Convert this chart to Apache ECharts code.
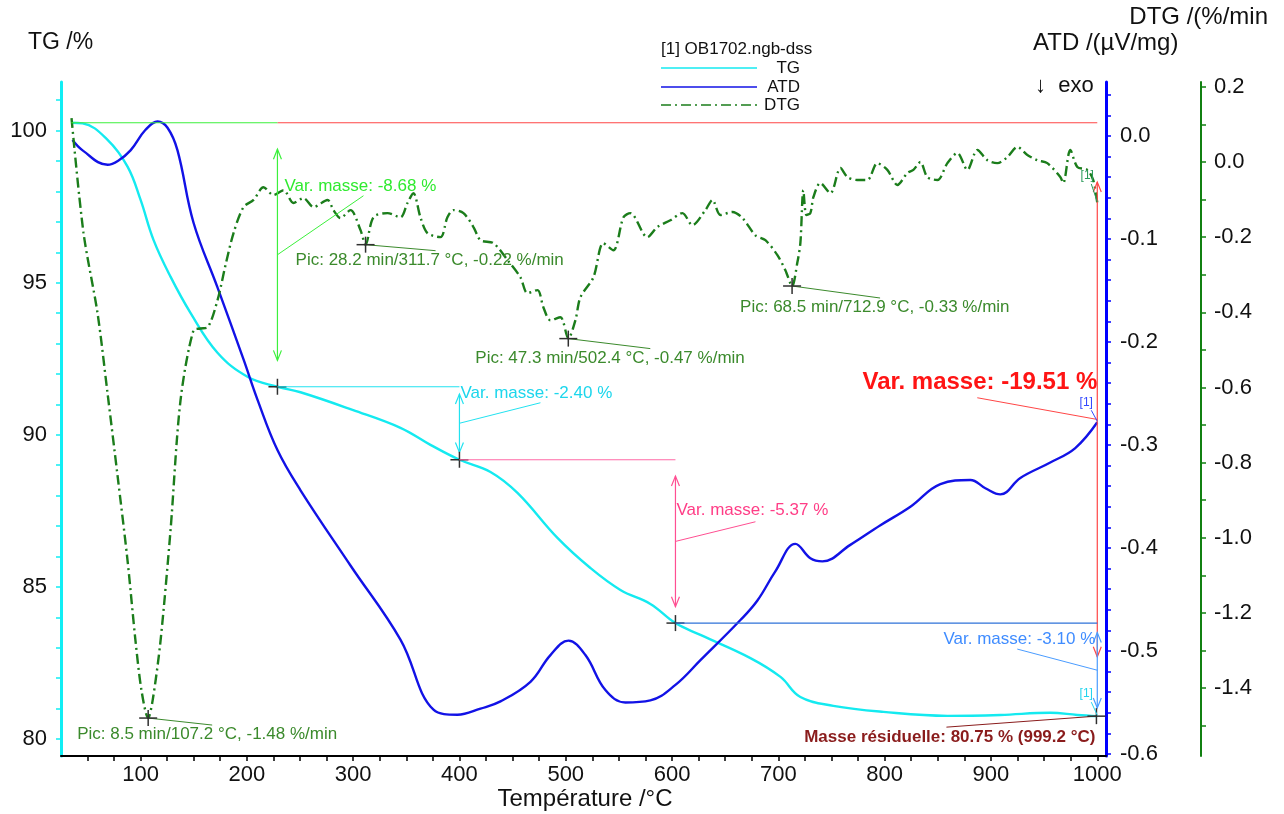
<!DOCTYPE html>
<html>
<head>
<meta charset="utf-8">
<title>OB1702 – TG / ATD / DTG</title>
<script src="https://cdn.jsdelivr.net/npm/echarts@6/dist/echarts.min.js"></script>
<style>
  html, body { margin: 0; padding: 0; background: #fff; }
  #chart { width: 1284px; height: 814px; }
</style>
</head>
<body>
<div id="chart"></div>
<script>
// ---- Measured curves: [temperature °C, value] ----
// TG, mass in %
const tgCurve = [
  [35, 100.26], [45.5, 100.24], [69, 99.70], [87.8, 98.82], [100, 97.73], [112.2, 96.41],
  [128.2, 95.20], [147, 94.01], [172.4, 92.70], [200.6, 91.91], [228.8, 91.58], [250.5, 91.40],
  [299.4, 90.82], [344.5, 90.23], [372.7, 89.67], [400, 89.18], [429.2, 88.78], [454.6, 88.09],
  [492.2, 86.61], [523.2, 85.62], [551.4, 84.90], [579.6, 84.44], [603.2, 83.81], [626.7, 83.42],
  [673.7, 82.66], [702, 82.04], [720.7, 81.38], [751.7, 81.09], [798.8, 80.89], [859, 80.76],
  [908.8, 80.79], [955.8, 80.86], [981.2, 80.79], [1000, 80.75]
];
// ATD, µV/mg (exo down)
const atdCurve = [
  [36, -0.004], [45.5, -0.014], [69, -0.028], [79, -0.024], [90.6, -0.014], [104.7, 0.006],
  [116, 0.014], [125.4, 0.008], [134.8, -0.014], [149.8, -0.084], [172.4, -0.147],
  [196.9, -0.217], [210, -0.256], [228.8, -0.305], [250.5, -0.344], [297.5, -0.417],
  [344.5, -0.489], [375.6, -0.557], [398.1, -0.562], [419.8, -0.556], [438.6, -0.549],
  [466.8, -0.530], [485.6, -0.504], [502.5, -0.490], [518.5, -0.504], [537.3, -0.538],
  [556.1, -0.550], [579.6, -0.548], [603.2, -0.533], [626.7, -0.509], [664.3, -0.470],
  [680.3, -0.451], [697, -0.423], [716, -0.396], [730.1, -0.410], [741.4, -0.413],
  [767.7, -0.397], [796, -0.378], [824.2, -0.360], [852.4, -0.338], [880.6, -0.334],
  [894.7, -0.342], [908.8, -0.348], [927.6, -0.332], [955.8, -0.317], [979.3, -0.303],
  [1000, -0.278]
];
// DTG, %/min
const dtgCurve = [
  [35.1, 0.117], [46.4, -0.189], [59.6, -0.403], [69.0, -0.616], [78.4, -0.835], [87.8, -1.061],
  [95.3, -1.275], [101.0, -1.408], [107.2, -1.48], [111.3, -1.435], [118.8, -1.275], [128.2, -0.981],
  [137.6, -0.635], [149.8, -0.448], [156.4, -0.443], [163.0, -0.440], [172.4, -0.368], [179.9, -0.275],
  [187.5, -0.189], [196.9, -0.120], [206.3, -0.101], [215.7, -0.067], [225.1, -0.088], [234.5, -0.075],
  [243.9, -0.109], [253.3, -0.096], [262.7, -0.120], [275.9, -0.101], [281.5, -0.128], [288.1, -0.149],
  [297.5, -0.128], [306.9, -0.181], [311.7, -0.22], [319.1, -0.147], [332.3, -0.136], [344.5, -0.147],
  [351.1, -0.109], [356.7, -0.083], [363.3, -0.147], [369.9, -0.189], [382.1, -0.200], [388.7, -0.147],
  [394.4, -0.128], [403.8, -0.136], [413.2, -0.173], [419.8, -0.208], [432.0, -0.216], [445.2, -0.261],
  [457.4, -0.307], [464.0, -0.349], [473.4, -0.341], [479.0, -0.387], [485.6, -0.421], [495.0, -0.413],
  [502.4, -0.47], [509.1, -0.421], [513.8, -0.360], [526.0, -0.307], [535.4, -0.216], [544.8, -0.235],
  [554.3, -0.147], [560.8, -0.136], [576.8, -0.200], [586.2, -0.173], [598.4, -0.155], [609.7, -0.136],
  [619.1, -0.168], [631.4, -0.128], [638.0, -0.101], [645.5, -0.141], [656.8, -0.133], [666.2, -0.149],
  [678.4, -0.195], [687.8, -0.208], [699.1, -0.248], [706.6, -0.288], [712.9, -0.33], [717.9, -0.267],
  [720.7, -0.216], [723.5, -0.075], [726.4, -0.141], [730.1, -0.136], [733.0, -0.093], [739.5, -0.056],
  [749.0, -0.083], [758.4, -0.016], [765.0, -0.040], [774.3, -0.048], [783.7, -0.048], [793.1, -0.003],
  [802.5, -0.021], [812.0, -0.061], [821.4, -0.029], [827.0, -0.021], [833.6, 0.000], [840.1, -0.040],
  [849.6, -0.048], [859.0, -0.003], [868.4, 0.024], [877.8, -0.021], [887.2, 0.032], [896.6, 0.005],
  [906.0, -0.003], [915.4, 0.013], [924.8, 0.040], [934.2, 0.019], [943.6, 0.005], [953.0, -0.003],
  [965.2, -0.040], [968.0, -0.056], [974.6, 0.032], [981.2, -0.013], [990.6, -0.021], [996.2, -0.048],
  [1000, -0.109]
];

// ---- Evaluated results ----
const massStartTemp = 35;
const massStepTemps = [228.8, 400, 603.2, 1000];     // end of each mass-loss step, °C
const massChanges = [-8.68, -2.40, -5.37, -3.10];     // %
const massTotalChange = -19.51;                       // %
const residualMass = 80.75;                           // %
const residualTemp = 999.2;                           // °C

const peakTimes = [8.5, 28.2, 47.3, 68.5];            // min
const peakTemps = [107.2, 311.7, 502.4, 712.9];       // °C
const peakRates = [-1.48, -0.22, -0.47, -0.33];       // %/min

// ---- Axis ticks and labels ----
const tempLabels = [100, 200, 300, 400, 500, 600, 700, 800, 900, 1000];
const tgLabels = [80, 85, 90, 95, 100];
const atdLabels = [-0.6, -0.5, -0.4, -0.3, -0.2, -0.1, 0.0];
const dtgLabels = [-1.4, -1.2, -1.0, -0.8, -0.6, -0.4, -0.2, 0.0, 0.2];

// ---------------------------------------------------------------
const FONT = '"Liberation Sans", Arial, sans-serif';
const font = (px, bold) => (bold ? 'bold ' : '') + px + 'px ' + FONT;
const steps = (a, b, s) => { const out = []; for (let i = 0; a + i * s <= b + 1e-9; i++) out.push(+(a + i * s).toFixed(4)); return out; };

// mass levels: start, then after each step
const massStart = +(residualMass - massTotalChange).toFixed(2);
const massLevels = [massStart];
massChanges.forEach(c => massLevels.push(+(massLevels[massLevels.length - 1] + c).toFixed(2)));

const COL = {
  tg: '#14eaf0', atd: '#1212e6', dtg: '#1b7d1b', axisDtg: '#118011',
  peakText: '#3b8a2c', black: '#303030'
};
const stepStyle = [
  { line: '#3cf03c', arrow: '#3cf03c', text: '#2fea2f' },
  { line: '#22e2f0', arrow: '#22e2f0', text: '#1cd6ec' },
  { line: '#ff6aa6', arrow: '#ff4f92', text: '#ff3d86' },
  { line: '#2e72d8', arrow: '#4a9cff', text: '#3f8cff' }
];
// text placement (pixels) relative to the top of each step arrow
const stepLayout = [
  { dx: 7, dy: 64, align: 'left', lead: [79, 9] },
  { dx: 1, dy: 7, align: 'left', lead: [80, 9] },
  { dx: 1, dy: 51, align: 'left', lead: [79, 11] },
  { dx: -2, dy: 16, align: 'right', lead: [-78, 10] }
];
const peakLayout = [
  { dx: -71, dy: 16, lead: [64, 7] },
  { dx: -70, dy: 16, lead: [70, 6] },
  { dx: -93, dy: 20, lead: [82, 10] },
  { dx: -52, dy: 21, lead: [88, 12] }
];

// ---- drawing helpers for custom series ----
const seg = (x1, y1, x2, y2, stroke, lineWidth = 1) =>
  ({ type: 'line', shape: { x1, y1, x2, y2 }, style: { stroke, lineWidth } });
const poly = (points, stroke, lineWidth = 1) =>
  ({ type: 'polyline', shape: { points }, style: { stroke, lineWidth, fill: null } });
const txt = (text, x, y, fill, f, align = 'left') =>
  ({ type: 'text', style: { text, x, y, fill, font: f, align, verticalAlign: 'middle' } });
function vArrow(x, y1, y2, color) {
  const inset = (y2 - y1) * 0.1, a = y1 + inset, b = y2 - inset, h = 10, w = 4;
  return [
    seg(x, a, x, b, color, 1.2),
    poly([[x - w, a + h], [x, a], [x + w, a + h]], color, 1.2),
    poly([[x - w, b - h], [x, b], [x + w, b - h]], color, 1.2)
  ];
}
const cross = (p) => [seg(p[0] - 9, p[1], p[0] + 9, p[1], COL.black, 1.5), seg(p[0], p[1] - 8, p[0], p[1] + 8, COL.black, 1.5)];
const pct = (v) => v.toFixed(2) + ' %';

function customLayer(yAxisIndex, data, draw, z) {
  return {
    type: 'custom', xAxisIndex: 0, yAxisIndex, data, silent: true, z: z || 5,
    encode: { x: 0, y: 1 },
    renderItem: (params, api) => ({ type: 'group', children: draw(params.dataIndex, api) })
  };
}

// mass-loss steps
const stepLayer = customLayer(0, massStepTemps.map((t, i) => [t, massLevels[i + 1]]), (i, api) => {
  const fromT = i === 0 ? massStartTemp : massStepTemps[i - 1];
  const toT = massStepTemps[i];
  const a = api.coord([fromT, massLevels[i]]);
  const b = api.coord([toT, massLevels[i]]);
  const c = api.coord([toT, massLevels[i + 1]]);
  const st = stepStyle[i], L = stepLayout[i];
  const tx = b[0] + L.dx, ty = b[1] + L.dy;
  const out = [seg(a[0], a[1], b[0], b[1], st.line, 1.2)]
    .concat(vArrow(b[0], b[1], c[1], st.arrow))
    .concat([
      seg(b[0], (b[1] + c[1]) / 2, tx + L.lead[0], ty + L.lead[1], st.arrow, 1),
      txt('Var. masse: ' + pct(massChanges[i]), tx, ty, st.text, font(17), L.align)
    ]);
  if (i < massStepTemps.length - 1) out.push(...cross(c));
  return out;
});

// overall mass change
const totalLayer = customLayer(0, [[1000, massStart]], (i, api) => {
  const a = api.coord([massStepTemps[0], massStart]);
  const b = api.coord([massStepTemps[massStepTemps.length - 1], massStart]);
  const c = api.coord([massStepTemps[massStepTemps.length - 1], residualMass]);
  const tx = b[0], ty = b[1] + 260;
  return [seg(a[0], a[1], b[0], b[1], '#ff4646', 1.2)]
    .concat(vArrow(b[0], b[1], c[1], '#ff4646'))
    .concat([
      seg(b[0], (b[1] + c[1]) / 2, tx - 120, ty + 15, '#ff4646', 1),
      txt('Var. masse: ' + pct(massTotalChange), tx, ty, '#ff1414', font(24, true), 'right')
    ]);
}, 4);

// residual mass
const residualLayer = customLayer(0, [[residualTemp, residualMass]], (i, api) => {
  const p = api.coord([residualTemp, residualMass]);
  return [
    seg(p[0], p[1], p[0] - 150, p[1] + 11, '#8a1c1c', 1),
    txt('Masse résiduelle: ' + residualMass.toFixed(2) + ' % (' + residualTemp.toFixed(1) + ' °C)',
        p[0] - 1, p[1] + 21, '#8a1c1c', font(17, true), 'right')
  ].concat(cross(p));
}, 6);

// DTG peaks
const peakLayer = customLayer(2, peakTemps.map((t, i) => [t, peakRates[i]]), (i, api) => {
  const p = api.coord([peakTemps[i], peakRates[i]]);
  const L = peakLayout[i];
  const label = 'Pic: ' + peakTimes[i].toFixed(1) + ' min/' + peakTemps[i].toFixed(1) + ' °C, ' +
                peakRates[i].toFixed(2) + ' %/min';
  return [
    seg(p[0], p[1], p[0] + L.lead[0], p[1] + L.lead[1], COL.peakText, 1),
    txt(label, p[0] + L.dx, p[1] + L.dy, COL.peakText, font(17))
  ].concat(cross(p));
}, 6);

// curve tags "[1]" at the end of each curve
const lastOf = (arr) => arr[arr.length - 1];
const tagLayer = (axis, pt, color, off) => customLayer(axis, [pt], (i, api) => {
  const p = api.coord(pt);
  return [
    seg(p[0] - 6, p[1] + off[1] + 8, p[0], p[1] - 1, color, 1),
    txt('[1]', p[0] + off[0], p[1] + off[1], color, font(12), 'center')
  ];
}, 6);

const plain = (v) => String(+v);

const option = {
  animation: false,
  backgroundColor: '#fff',
  grid: { left: 61, right: 178, top: 82, bottom: 58, containLabel: false },
  xAxis: {
    type: 'value', min: 25.2, max: 1008.2,
    axisLine: { show: true, onZero: false, lineStyle: { color: '#000', width: 2 } },
    axisTick: { show: true, customValues: steps(50, 1000, 25), length: 5, lineStyle: { color: '#000', width: 1.5 } },
    axisLabel: { customValues: tempLabels, fontSize: 22, fontFamily: FONT, color: '#111', margin: 8, formatter: plain },
    splitLine: { show: false }
  },
  yAxis: [
    {
      type: 'value', position: 'left', min: 79.44, max: 101.6,
      axisLine: { show: true, onZero: false, lineStyle: { color: '#10eef4', width: 3 } },
      axisTick: { show: true, customValues: steps(80, 101, 1), length: 5, lineStyle: { color: '#10eef4', width: 1.5 } },
      axisLabel: { customValues: tgLabels, fontSize: 22, fontFamily: FONT, color: '#111', margin: 14, formatter: plain },
      splitLine: { show: false }
    },
    {
      type: 'value', position: 'right', offset: 0, min: -0.602, max: 0.0524,
      axisLine: { show: true, onZero: false, lineStyle: { color: '#0000ff', width: 3 } },
      axisTick: { show: true, customValues: steps(-0.6, 0.04, 0.02), length: 5, lineStyle: { color: '#0000ff', width: 1.5 } },
      axisLabel: { customValues: atdLabels, fontSize: 22, fontFamily: FONT, color: '#111', margin: 14,
                   formatter: (v) => (+v).toFixed(1) },
      splitLine: { show: false }
    },
    {
      type: 'value', position: 'right', offset: 95, min: -1.581, max: 0.213,
      axisLine: { show: true, onZero: false, lineStyle: { color: COL.axisDtg, width: 2 } },
      axisTick: { show: true, customValues: steps(-1.5, 0.2, 0.1), length: 5, lineStyle: { color: COL.axisDtg, width: 1.5 } },
      axisLabel: { customValues: dtgLabels, fontSize: 22, fontFamily: FONT, color: '#111', margin: 13,
                   formatter: (v) => (+v).toFixed(1) },
      splitLine: { show: false }
    }
  ],
  series: [
    { name: 'TG', type: 'line', yAxisIndex: 0, data: tgCurve, showSymbol: false, smooth: 0.4,
      lineStyle: { color: COL.tg, width: 2.4 }, z: 3 },
    { name: 'ATD', type: 'line', yAxisIndex: 1, data: atdCurve, showSymbol: false, smooth: 0.4,
      lineStyle: { color: COL.atd, width: 2.4 }, z: 3 },
    { name: 'DTG', type: 'line', yAxisIndex: 2, data: dtgCurve, showSymbol: false, smooth: 0.3,
      lineStyle: { color: COL.dtg, width: 2.4, type: [10, 4, 2, 4] }, z: 3 },
    stepLayer, totalLayer, residualLayer, peakLayer,
    tagLayer(0, lastOf(tgCurve), '#22d4ee', [-11, -22]),
    tagLayer(1, lastOf(atdCurve), '#3348ff', [-11, -20]),
    tagLayer(2, lastOf(dtgCurve), '#2a9a5a', [-10, -27])
  ],
  graphic: [
    // axis titles
    { type: 'text', x: 28, y: 43, style: { text: 'TG /%', font: font(23), fill: '#111', verticalAlign: 'middle' } },
    { type: 'text', x: 1268, y: 17, style: { text: 'DTG /(%/min', font: font(24), fill: '#111', align: 'right', verticalAlign: 'middle' } },
    { type: 'text', x: 1033, y: 43, style: { text: 'ATD /(µV/mg)', font: font(24), fill: '#111', verticalAlign: 'middle' } },
    { type: 'text', x: 1035, y: 86, style: { text: '↓  exo', font: font(22), fill: '#111', verticalAlign: 'middle' } },
    { type: 'text', x: 585, y: 799, style: { text: 'Température /°C', font: font(24), fill: '#111', align: 'center', verticalAlign: 'middle' } },
    // legend
    { type: 'text', x: 661, y: 49, style: { text: '[1] OB1702.ngb-dss', font: font(17), fill: '#111', verticalAlign: 'middle' } },
    { type: 'line', shape: { x1: 661, y1: 68, x2: 757, y2: 68 }, style: { stroke: COL.tg, lineWidth: 1.5 } },
    { type: 'text', x: 800, y: 68, style: { text: 'TG', font: font(17), fill: '#111', align: 'right', verticalAlign: 'middle' } },
    { type: 'line', shape: { x1: 661, y1: 87, x2: 757, y2: 87 }, style: { stroke: COL.atd, lineWidth: 1.5 } },
    { type: 'text', x: 800, y: 87, style: { text: 'ATD', font: font(17), fill: '#111', align: 'right', verticalAlign: 'middle' } },
    { type: 'line', shape: { x1: 661, y1: 105, x2: 757, y2: 105 }, style: { stroke: COL.dtg, lineWidth: 1.5, lineDash: [10, 4, 2, 4] } },
    { type: 'text', x: 800, y: 105, style: { text: 'DTG', font: font(17), fill: '#111', align: 'right', verticalAlign: 'middle' } }
  ]
};

const chart = echarts.init(document.getElementById('chart'));
chart.setOption(option);
</script>
</body>
</html>
